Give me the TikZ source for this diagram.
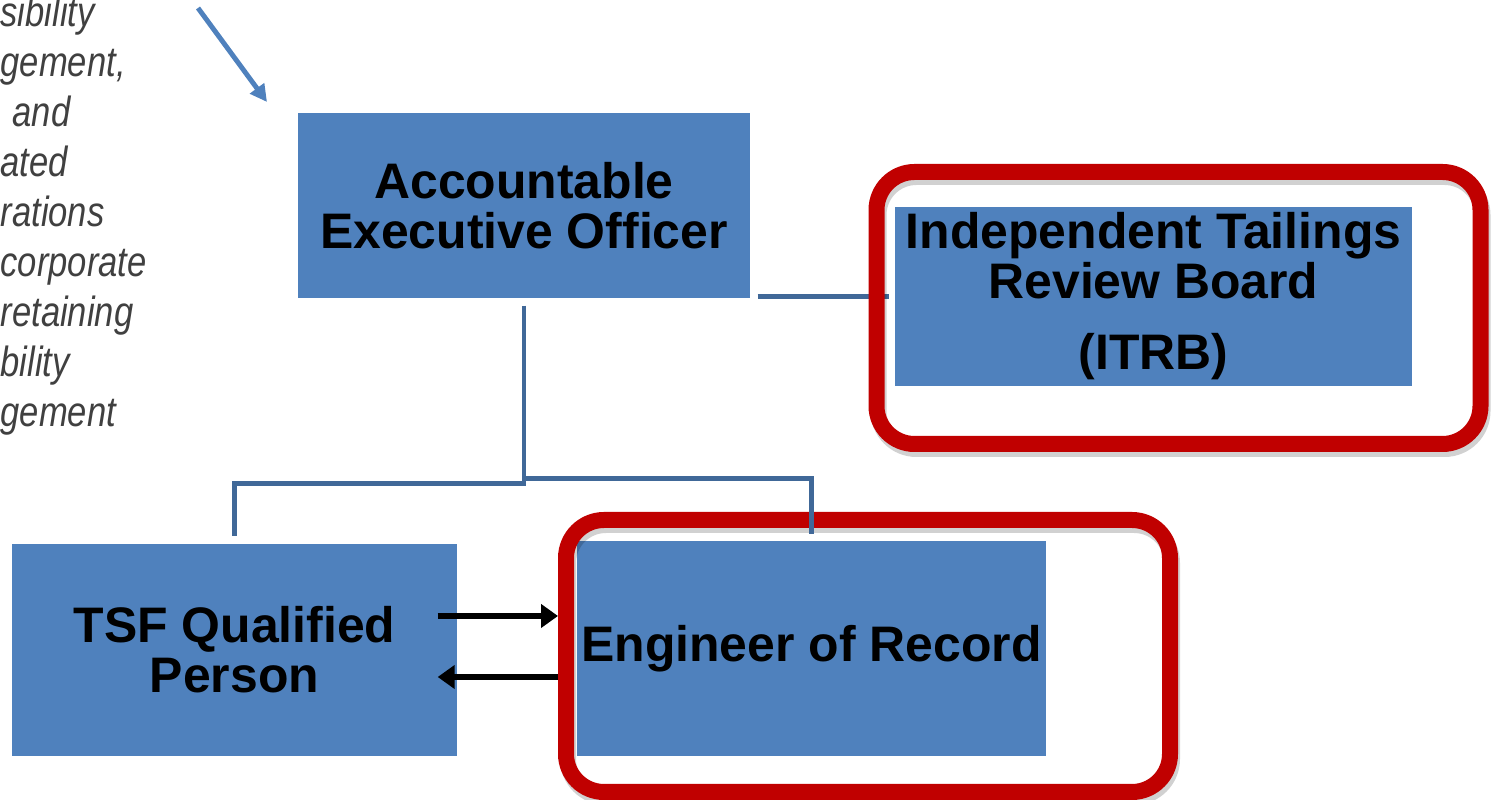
\documentclass[tikz,border=0pt]{standalone}
\usepackage{fontspec}
\usepackage{tikz}
\usetikzlibrary{arrows.meta, shadows}
\newfontfamily\boxfont{Liberation Sans}
\newfontfamily\notefont[FakeStretch=0.82]{Liberation Sans}
\definecolor{boxblue}{RGB}{79,129,189}
\definecolor{linkblue}{RGB}{64,104,152}
\definecolor{framered}{RGB}{192,0,0}

\begin{document}
\begin{tikzpicture}[
    every node/.style={font=\boxfont\bfseries\fontsize{14.2}{14.2}\selectfont},
    org/.style={fill=boxblue, inner sep=0pt, text centered, align=center},
    redframe/.style={draw=framered, line width=0.16cm, rounded corners=0.38cm,
                     minimum width=6.04cm, minimum height=2.72cm, inner sep=0pt,
                     drop shadow={shadow xshift=0.02cm, shadow yshift=-0.05cm,
                                  fill=none, draw=black, opacity=0.18, line width=0.16cm}},
    link/.style={draw=linkblue, line width=1.3pt},
    flow/.style={-{Triangle[length=0.17cm, width=0.23cm]}, line width=1.7pt},
    note/.style={font=\notefont\itshape\fontsize{12}{12}\selectfont, text=black!75,
                 anchor=base west, inner sep=0pt},
]
\useasboundingbox (0,0) rectangle (14.95,8);

%% Texto recortado a la izquierda
\foreach \dx/\frag [count=\k from 0] in {0/sibility, 0/{gement,}, 0.12/and, 0/ated,
        0/rations, 0/corporate, 0/retaining, 0/bility, 0/gement}
    \node[note] (note\k) at (\dx, 7.73-0.5*\k) {\frag};

\coordinate (notetail) at (1.98,7.92);
\coordinate (notetip)  at (2.67,6.98);
\draw[-{Triangle[length=0.17cm, width=0.17cm]}, boxblue, line width=1.4pt] (notetail) -- (notetip);

%% Cajas
\node[org, minimum width=4.52cm, minimum height=1.85cm] at (5.24,5.945)   (aeo)  {Accountable\\Executive Officer};
\node[org, minimum width=5.17cm, minimum height=1.79cm] at (11.535,5.035) (itrb) {Independent Tailings\\Review Board\\[6pt](ITRB)};
\node[org, minimum width=4.45cm, minimum height=2.12cm] at (2.345,1.50)   (tsf)  {TSF Qualified\\Person};
\node[org, minimum width=4.69cm, minimum height=2.15cm] at (8.115,1.515)  (eor)  {Engineer of Record};

\draw[link, shorten <=0.07cm, shorten >=0.05cm] (aeo.east |- itrb.west) -- (itrb.west);

%% Marcos rojos
\node[redframe] at (11.785,4.92) (itrbframe) {};
\node[redframe] at (8.68,1.44)   (eorframe)  {};

%% Organigrama
\draw[link, shorten <=0.07cm, shorten >=0.07cm] (aeo.south) -- ++(0,-1.85) -| (tsf.north);
\draw[link, shorten >=0.06cm] ([yshift=-1.80cm]aeo.south) -| (eor.north);

%% Flechas entre QP y EoR
\coordinate (qpout) at ([shift={(-0.2,0.34)}]tsf.east);
\coordinate (qpin)  at ([shift={(-0.2,-0.27)}]tsf.east);
\draw[flow] (qpout) -- (qpout -| eorframe.west);
\draw[flow] (qpin -| eorframe.west) -- (qpin);

\end{tikzpicture}
\end{document}
